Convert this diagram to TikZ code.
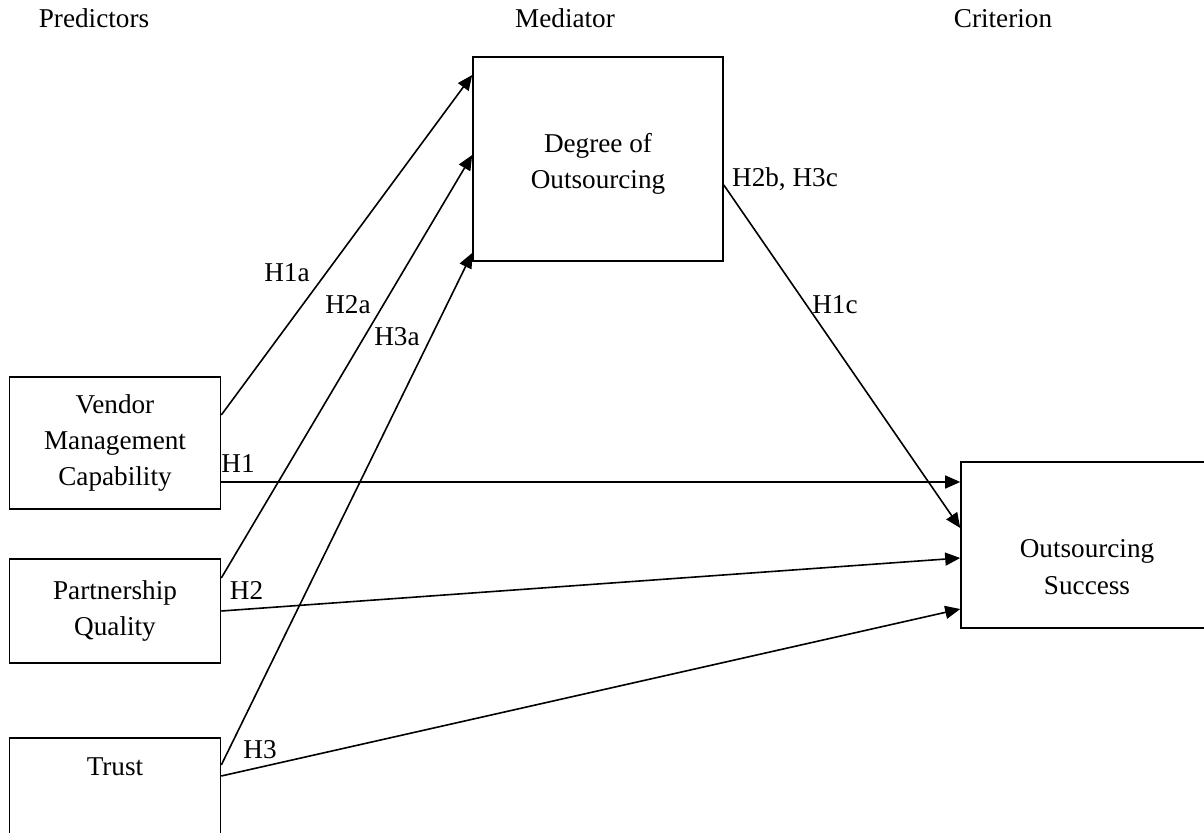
\documentclass[tikz,border=0pt]{standalone}
\usepackage{fontspec}
\setmainfont{Liberation Serif}
\usepackage{tikz}
\usetikzlibrary{arrows.meta}
\definecolor{Ink}{HTML}{000000}

\begin{document}
\begin{tikzpicture}[x=0.5pt,y=-0.5pt,
  varbox/.style={draw=Ink, line width=0.8pt, align=center, inner sep=0pt,
    minimum width=105.5pt, font=\fontsize{13.6}{18}\selectfont},
  link/.style={draw=Ink, line width=0.8pt, -{Triangle[length=7.5pt,width=6.5pt]}},
  hlab/.style={anchor=base, inner sep=0pt, font=\fontsize{13.6}{18}\selectfont}]
  \useasboundingbox (0,0) rectangle (1204,833);
  \clip (0,0) rectangle (1204,833);
  % column headings
  \node[hlab] (pred) at (94,28) {Predictors};
  \node[hlab] (medi) at (565,28) {Mediator};
  \node[hlab] (crit) at (1003,28) {Criterion};
  % variables
  \node[varbox, minimum height=66pt] (vmc) at (115,443) {Vendor\\Management\\Capability};
  \node[varbox, minimum height=52pt] (pq) at (115,611) {Partnership\\Quality};
  \node[varbox, text height=18.5pt, text depth=47.5pt] (trust) at (115,804) {Trust};
  \node[varbox, minimum width=125pt, text height=66pt, text depth=36pt] (deg) at (598,159) {Degree of\\Outsourcing};
  \node[varbox, minimum width=126pt, text height=66pt, text depth=17pt] (succ) at (1087,545) {Outsourcing\\Success};
  % paths
  \foreach \from/\fs/\to/\ts in {vmc/14/deg/42, pq/16.5/deg/2, trust/19.5/deg/-47,
      vmc/-19.5/succ/31.5, pq/0/succ/-6.5, trust/14/succ/-32}
    \draw[link] ([yshift=\fs pt]\from.east) -- ([yshift=\ts pt]\to.west);
  \draw[link] ([yshift=-13pt]deg.east) -- ([yshift=8.5pt]succ.west);
  % hypothesis labels
  \foreach \n/\x/\y/\t in {h1a/287/282/H1a, h2a/348/314/H2a, h3a/397/346/H3a,
      h1/238/473/H1, h2/246.5/599/H2, h3/260/758/H3,
      h2b/785/187/{H2b, H3c}, h1c/835/314/H1c}
    \node[hlab] (\n) at (\x,\y) {\t};
\end{tikzpicture}
\end{document}
